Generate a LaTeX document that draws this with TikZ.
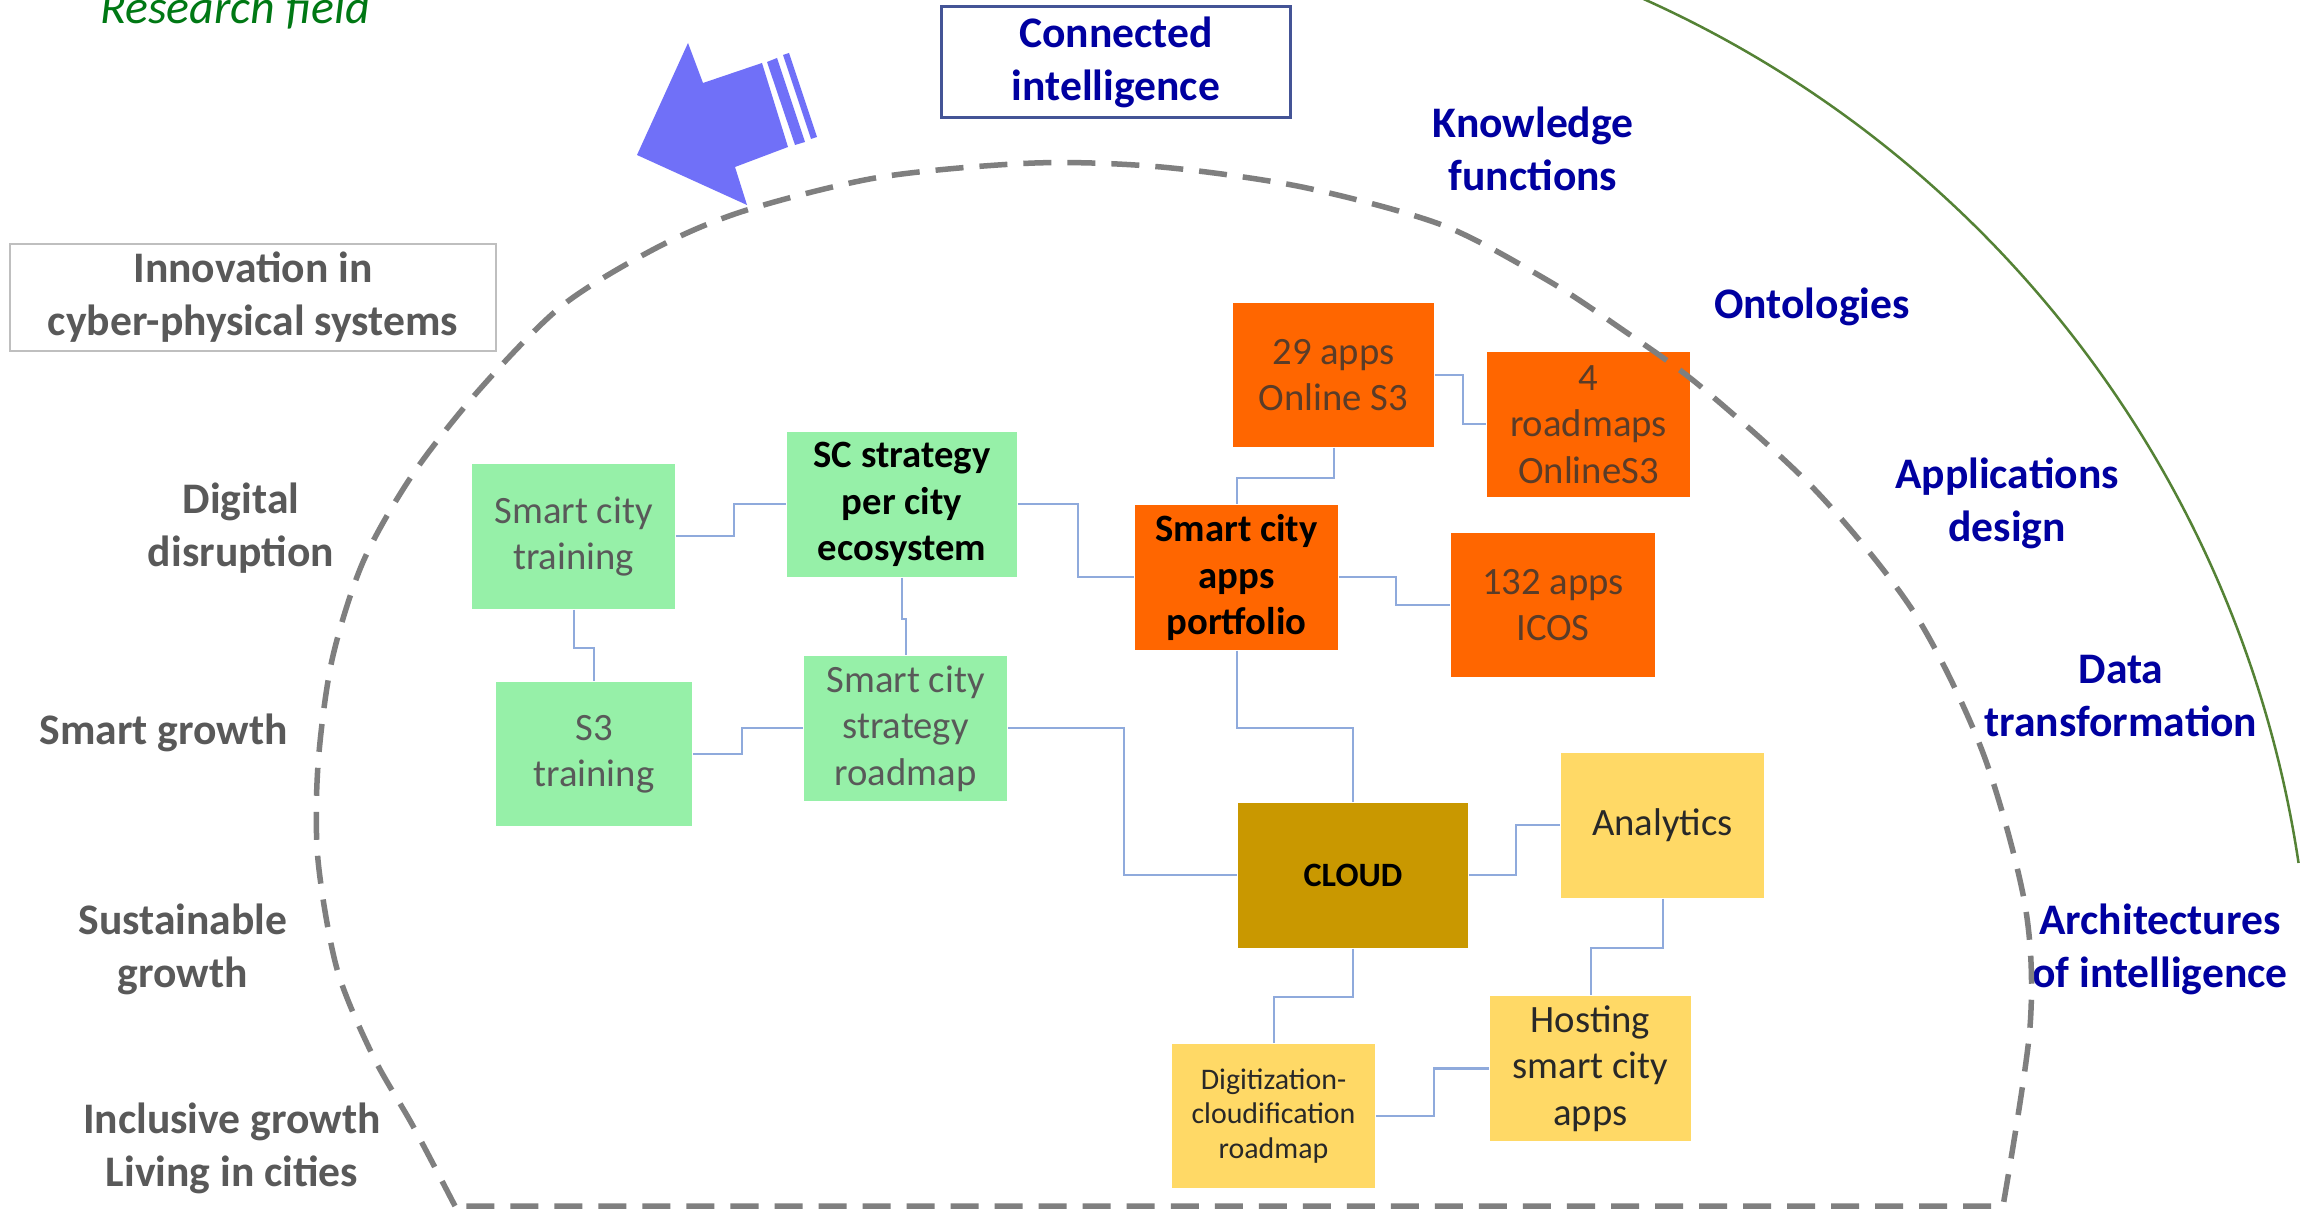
\documentclass[tikz,border=0pt]{standalone}
\usepackage{fontspec}
\setmainfont{Carlito}
\usepackage{xcolor}
\usepackage{tikz}

\definecolor{mintgreen}{RGB}{150,240,168}
\definecolor{apporange}{RGB}{255,102,0}
\definecolor{cloudgold}{RGB}{201,152,0}
\definecolor{lightgold}{RGB}{255,217,102}
\definecolor{linkblue}{RGB}{143,170,220}
\definecolor{txtgray}{RGB}{89,89,89}
\definecolor{txtbrown}{RGB}{90,60,40}
\definecolor{txtdark}{RGB}{40,40,40}
\definecolor{labblue}{RGB}{0,0,160}
\definecolor{fieldgreen}{RGB}{0,120,20}
\definecolor{arcgreen}{RGB}{84,130,53}
\definecolor{arrowblue}{RGB}{112,112,248}
\definecolor{dashgray}{RGB}{127,127,127}
\definecolor{framegray}{RGB}{191,191,191}
\definecolor{framblue}{RGB}{68,84,150}

\newcommand\labtxt{\fontsize{12.4}{15.1}\selectfont}
\newcommand\boxtxt{\fontsize{11}{13.2}\selectfont}
\newcommand\smalltxt{\fontsize{8.5}{9.9}\selectfont}
\newcommand\cloudtxt{\fontsize{9.7}{11.6}\selectfont}
\newcommand\fieldtxt{\fontsize{13.6}{16}\selectfont}

\tikzset{
  box/.style={rectangle, inner sep=0pt, minimum width=2.03cm, minimum height=1.45cm, align=center, font=\boxtxt},
  greenbox/.style={box, fill=mintgreen, text=txtgray},
  orangebox/.style={box, fill=apporange, text=txtbrown},
  yellowbox/.style={box, fill=lightgold, text=txtdark},
  link/.style={draw=linkblue, line width=0.02cm},
  leftlab/.style={font=\labtxt\bfseries, text=txtgray, align=center, inner sep=0pt, yshift=-0.04cm},
  rightlab/.style={font=\labtxt\bfseries, text=labblue, align=center, inner sep=0pt, yshift=-0.04cm}
}

\begin{document}
\begin{tikzpicture}[x=0.01cm, y=-0.01cm]
        \useasboundingbox (0,0) rectangle (2315,1210);
        \fill[white] (0,0) rectangle (2315,1210);
        % outer field
        \draw[arcgreen, line width=0.025cm] (1181,1030) ++(-67:1130) arc[start angle=-67, end angle=-8.5, radius=1130];
        \node[font=\fieldtxt\itshape, text=fieldgreen, anchor=base, inner sep=0pt] (field) at (235,24) {Research field};
        \fill[arrowblue] (747,205) -- (637,155) -- (688,43) -- (703,83) -- (762,63) -- (788,147) -- (735,167) -- cycle;
        \fill[arrowblue] (767,62) -- (777,58) -- (805,142) -- (795,145) -- cycle;
        \fill[arrowblue] (783,55) -- (789,53) -- (817,137) -- (811,139) -- cycle;
        \node[draw=framblue, line width=0.03cm, minimum width=3.48cm, minimum height=1.10cm, font=\labtxt\bfseries, text=labblue, align=center, inner sep=0pt] (conn) at (1116,62) {Connected\\intelligence};
        \node[draw=framegray, line width=0.02cm, minimum width=4.86cm, minimum height=1.07cm, font=\labtxt\bfseries, text=txtgray, align=center, inner sep=0pt] (innov) at (253,297.5) {Innovation in\\cyber-physical systems};
        % labels
        \node[leftlab] (digital) at (241,524) {Digital\\disruption};
        \node[leftlab] (smart) at (164,729) {Smart growth};
        \node[leftlab] (sustain) at (183,945) {Sustainable\\growth};
        \node[leftlab] (inclus) at (232,1144) {Inclusive growth\\Living in cities};
        \node[rightlab] (know) at (1533,145) {Knowledge\\functions};
        \node[rightlab] (onto) at (1812,303) {Ontologies};
        \node[rightlab] (appdes) at (2007,499) {Applications\\design};
        \node[rightlab] (datatr) at (2121,692) {Data\\transformation};
        \node[rightlab] (archi) at (2160,945) {Architectures\\of intelligence};
        % boxes
        \node[greenbox] (sct) at (573.5,536.5) {Smart city\\training};
        \node[greenbox, minimum width=2.30cm, text=black, font=\boxtxt\bfseries] (scs) at (902,504.5) {SC strategy\\per city\\ecosystem};
        \node[greenbox, minimum width=1.96cm, minimum height=1.44cm] (s3t) at (594,754) {S3\\training};
        \node[greenbox] (scr) at (905.5,728.5) {Smart city\\strategy\\roadmap};
        \node[orangebox, minimum width=2.01cm, minimum height=1.44cm] (apps29) at (1333.5,375) {29 apps\\Online S3};
        \node[orangebox] (road4) at (1588.5,424.5) {4\\roadmaps\\OnlineS3};
        \node[orangebox, text=black, font=\boxtxt\bfseries] (port) at (1236.5,577.5) {Smart city\\apps\\portfolio};
        \node[orangebox, minimum width=2.04cm, minimum height=1.44cm] (apps132) at (1553,605) {132 apps\\ICOS};
        \node[box, fill=cloudgold, minimum width=2.30cm, text=black, font=\cloudtxt\bfseries] (cloud) at (1353,875.5) {CLOUD};
        \node[yellowbox] (analytics) at (1662.5,825.5) {Analytics};
        \node[yellowbox, minimum width=2.01cm] (hosting) at (1590.5,1068.5) {Hosting\\smart city\\apps};
        \node[yellowbox, minimum height=1.44cm, font=\smalltxt] (digit) at (1273.5,1116) {Digitization-\\cloudification\\roadmap};
        % connectors
        \draw[link] (sct.east) -- ++(58,0) |- (scs.west);
        \draw[link] (sct.south) -- ++(0,38) -| (s3t.north);
        \draw[link] (s3t.east) -- ++(49,0) |- (scr.west);
        \draw[link] (scs.south) -- ++(0,41) -| (scr.north);
        \draw[link] (scs.east) -- ++(60,0) |- (port.west);
        \draw[link] (scr.east) -- ++(116,0) |- (cloud.west);
        \draw[link] (apps29.east) -- ++(28,0) |- (road4.west);
        \draw[link] (apps29.south) -- ++(0,30) -| (port.north);
        \draw[link] (port.east) -- ++(57,0) |- (apps132.west);
        \draw[link] (port.south) -- ++(0,77) -| (cloud.north);
        \draw[link] (cloud.east) -- ++(47,0) |- (analytics.west);
        \draw[link] (analytics.south) -- ++(0,49) -| (hosting.north);
        \draw[link] (cloud.south) -- ++(0,48) -| (digit.north);
        \draw[link] (digit.east) -- ++(58,0) |- (hosting.west);
        % inner field
        \draw[dashgray, line width=0.055cm, dash pattern=on 0.28cm off 0.16cm] plot[smooth] coordinates {(455,1206) (413,1126) (373,1056) (337,969) (318,860) (318,765) (332,660) (363,562) (413,474) (480,389) (563,305) (660,246) (747,210) (881,177) (1035,163) (1161,167) (1302,187) (1442,225) (1547,280) (1620,328) (1700,386) (1817,492) (1915,614) (1983,753) (2025,905) (2030,1027) (2003,1206)} -- cycle;
    \end{tikzpicture}
\end{document}
